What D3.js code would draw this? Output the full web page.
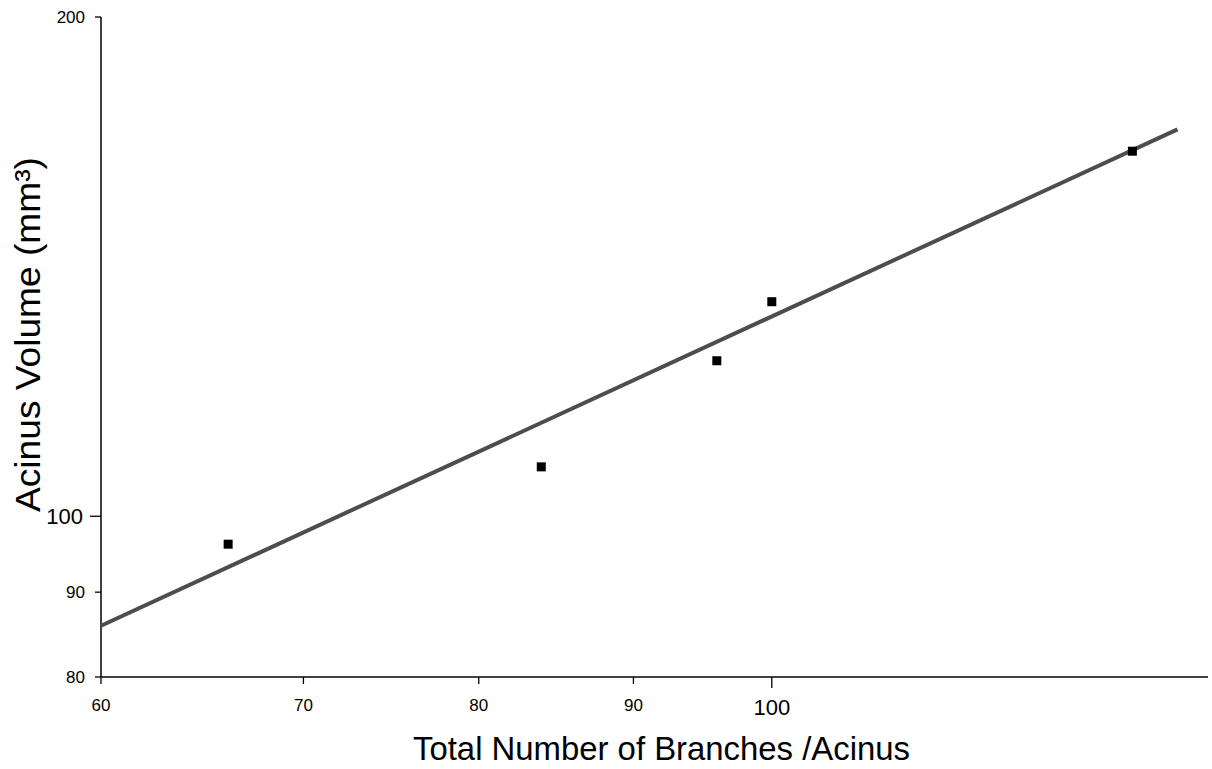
<!DOCTYPE html>
<html>
<head>
<meta charset="utf-8">
<script src="https://cdn.jsdelivr.net/npm/d3@7"></script>
<style>
  html, body { margin: 0; padding: 0; background: #fff; }
  text { font-family: "Liberation Sans", Arial, sans-serif; fill: #000; }
</style>
</head>
<body>
<svg id="chart" width="1212" height="769"></svg>
<script>
// Branch count vs. acinus volume (log-log)
const branches = [66.1, 83.9, 95.9, 100.0, 131.6];
const volumes  = [96.2, 107.1, 124.1, 134.7, 166.0];

// Fitted power-law line, endpoints
const fitX = [60, 136.2];
const fitY = [85.9, 171.1];

const xTicks = [60, 70, 80, 90, 100];
const yTicks = [80, 90, 100, 200];
const majorTick = 100;

const svg = d3.select("#chart");
const margin = { left: 101, top: 17, right: 4, bottom: 92 };
const W = 1212, H = 769;

const x = d3.scaleLog().domain([60, 139.4]).range([margin.left, W - margin.right]);
const y = d3.scaleLog().domain([80, 200]).range([H - margin.bottom, margin.top]);

// X axis
const xAxis = svg.append("g").attr("transform", `translate(0,${y(80)})`);
xAxis.append("line")
  .attr("x1", x(60)).attr("x2", x(139.4))
  .attr("stroke", "#000").attr("stroke-width", 1.5);
xTicks.forEach(t => {
  const big = t === majorTick;
  xAxis.append("line")
    .attr("x1", x(t)).attr("x2", x(t))
    .attr("y1", 0).attr("y2", big ? 11 : 7)
    .attr("stroke", "#000").attr("stroke-width", 1.3);
  xAxis.append("text")
    .attr("x", x(t)).attr("y", big ? 38 : 34)
    .attr("text-anchor", "middle")
    .attr("font-size", big ? 22 : 17)
    .text(t);
});

// Y axis
const yAxis = svg.append("g").attr("transform", `translate(${x(60)},0)`);
yAxis.append("line")
  .attr("y1", y(80)).attr("y2", y(200))
  .attr("stroke", "#000").attr("stroke-width", 1.5);
yTicks.forEach(t => {
  const big = t === majorTick;
  yAxis.append("line")
    .attr("x1", big ? -11 : -6).attr("x2", 0)
    .attr("y1", y(t)).attr("y2", y(t))
    .attr("stroke", "#000").attr("stroke-width", 1.3);
  yAxis.append("text")
    .attr("x", big ? -18 : -16).attr("y", y(t))
    .attr("dy", "0.36em")
    .attr("text-anchor", "end")
    .attr("font-size", big ? 22 : 17)
    .text(t);
});

// Regression line
svg.append("line")
  .attr("x1", x(fitX[0])).attr("y1", y(fitY[0]))
  .attr("x2", x(fitX[1])).attr("y2", y(fitY[1]))
  .attr("stroke", "#4d4d4d").attr("stroke-width", 4);

// Data points
const s = 9;
svg.append("g").selectAll("rect")
  .data(branches.map((b, i) => [b, volumes[i]]))
  .join("rect")
  .attr("x", d => x(d[0]) - s / 2)
  .attr("y", d => y(d[1]) - s / 2)
  .attr("width", s).attr("height", s)
  .attr("fill", "#000");

// Axis titles
svg.append("text")
  .attr("x", 413).attr("y", 760)
  .attr("font-size", 34)
  .attr("textLength", 497)
  .attr("lengthAdjust", "spacingAndGlyphs")
  .text("Total Number of Branches /Acinus");

svg.append("text")
  .attr("transform", "translate(40,512) rotate(-90)")
  .attr("font-size", 35)
  .attr("textLength", 355)
  .attr("lengthAdjust", "spacingAndGlyphs")
  .text("Acinus Volume (mm³)");
</script>
</body>
</html>
